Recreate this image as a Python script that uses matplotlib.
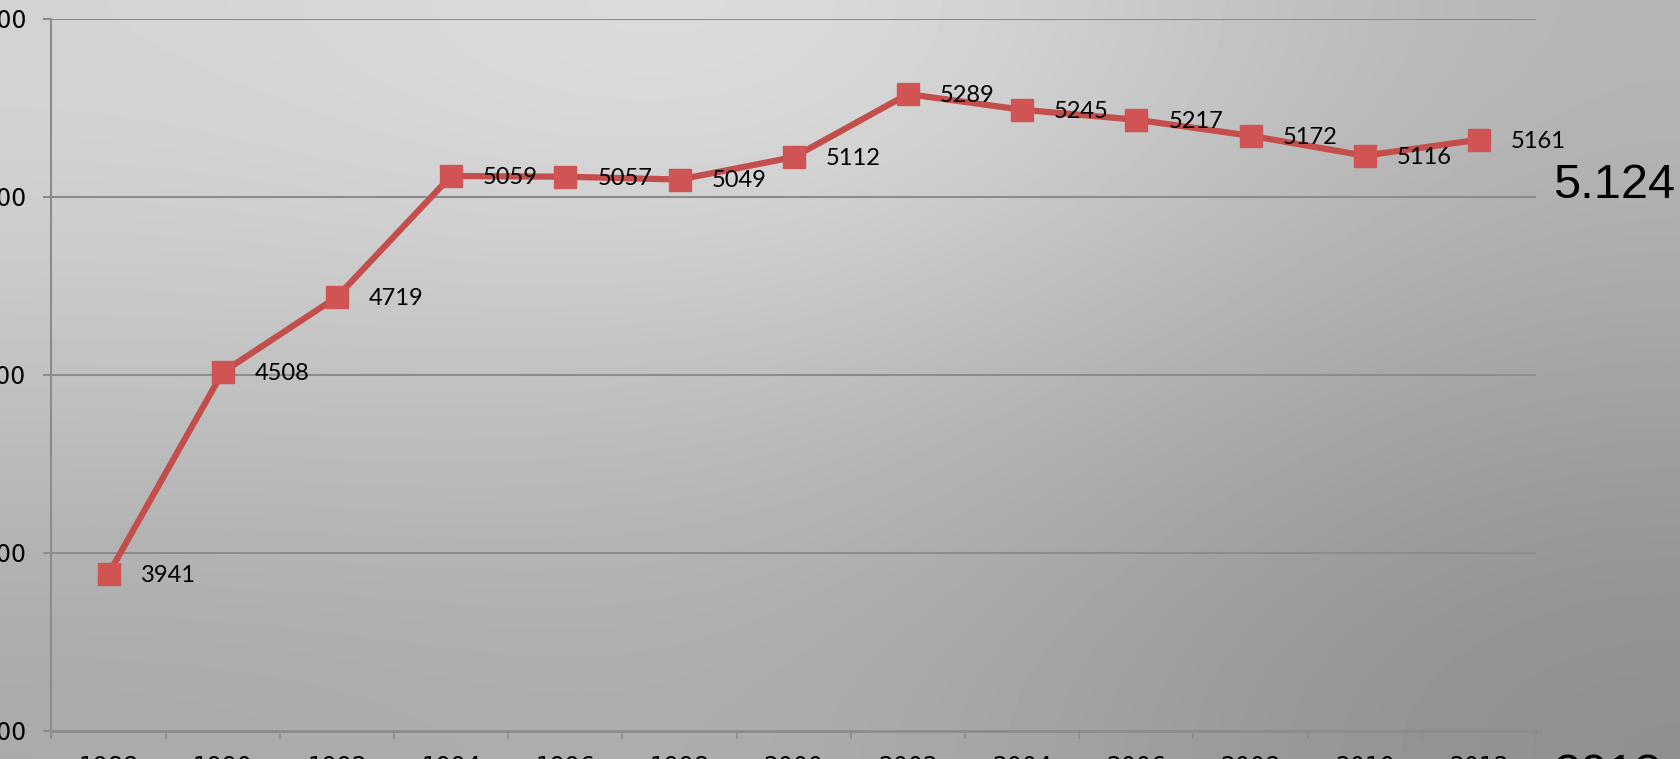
import numpy as np
import matplotlib
matplotlib.use("Agg")
import matplotlib.pyplot as plt

years = ["1988", "1990", "1992", "1994", "1996", "1998", "2000",
         "2002", "2004", "2006", "2008", "2010", "2012"]
values = [3941, 4508, 4719, 5059, 5057, 5049, 5112,
          5289, 5245, 5217, 5172, 5116, 5161]
y_ticks = [3500, 4000, 4500, 5000, 5500]
side_value = "5.124"
side_year = "2013"

fig = plt.figure(figsize=(16.8, 7.59), dpi=100)

# gray gradient background (light top-left/middle, dark bottom-right)
bg = np.array([[212, 228, 180],
               [194, 192, 162],
               [169, 176, 142]], dtype=float) / 255.0
bg_ax = fig.add_axes([0, 0, 1, 1], zorder=0)
bg_ax.imshow(bg, cmap="gray", vmin=0, vmax=1, aspect="auto",
             interpolation="bicubic", extent=[0, 1, 0, 1])
bg_ax.axis("off")

ax = fig.add_axes([0.0306, 0.0369, 0.8837, 0.9381], zorder=1)
ax.patch.set_alpha(0)

grid_color = "#8c8c8c"
x = np.arange(len(years))

ax.set_xlim(-0.5, len(years) - 0.5)
ax.set_ylim(y_ticks[0], y_ticks[-1])
ax.set_yticks(y_ticks)
ax.set_yticklabels([str(v) for v in y_ticks])
ax.set_xticks(x)
ax.set_xticklabels(years)
ax.set_xticks(np.arange(len(years) + 1) - 0.5, minor=True)

for v in y_ticks[1:]:
    ax.axhline(v, color=grid_color, linewidth=1.5, zorder=1)

for side in ["top", "right"]:
    ax.spines[side].set_visible(False)
ax.spines["left"].set_color(grid_color)
ax.spines["left"].set_linewidth(1.5)
ax.spines["bottom"].set_color(grid_color)
ax.spines["bottom"].set_linewidth(2)

ax.tick_params(axis="y", length=6, width=1.5, color=grid_color,
               labelsize=17, pad=12)
ax.tick_params(axis="x", which="major", length=0, labelsize=17, pad=17)
ax.tick_params(axis="x", which="minor", length=6, width=1.2,
               color=grid_color, direction="out")

ax.plot(x, values, color="#c44e4b", linewidth=4.5, marker="s",
        markersize=16, markerfacecolor="#d05454",
        markeredgecolor="#d05454", zorder=3, clip_on=False)

for xi, v in zip(x, values):
    ax.annotate(str(v), (xi, v), xytext=(23, -1), textcoords="offset points",
                fontsize=17, family="Lato", va="center", ha="left",
                color="black", zorder=4)

fig.text(1553 / 1680, 1 - 198 / 759, side_value, fontsize=35,
         family="Liberation Sans", ha="left", va="baseline")
fig.text(1553 / 1680, 1 - 788 / 759, side_year, fontsize=35,
         family="Liberation Sans", ha="left", va="baseline")

fig.savefig("out.png", dpi=100)
